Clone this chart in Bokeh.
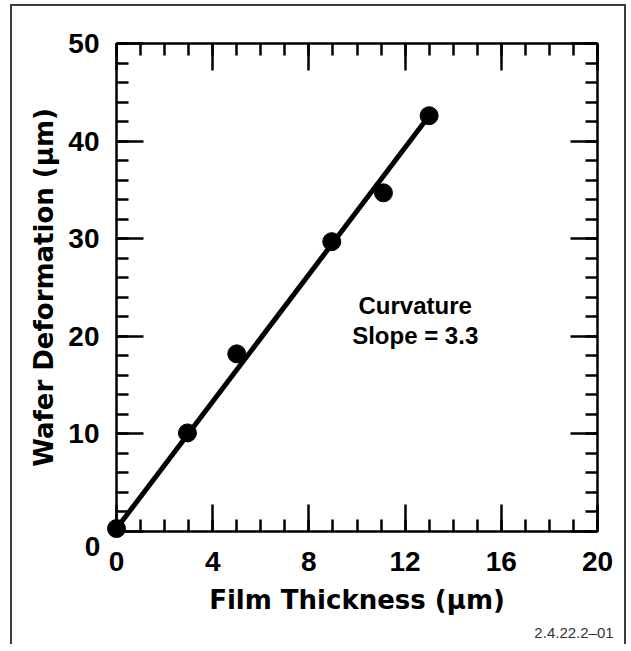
from bokeh.plotting import figure
from bokeh.models import Range1d, LinearAxis, FixedTicker, Label
from bokeh.core.properties import value
from bokeh.embed import file_html
from bokeh.resources import INLINE

# ---- data ----
thickness = [0.0, 2.95, 5.0, 8.95, 11.1, 13.0]      # Film thickness (um)
deformation = [0.3, 10.1, 18.2, 29.7, 34.7, 42.6]   # Wafer deformation (um)
fit_x = [0.0, 13.0]
fit_y = [0.3, 42.6]
x_major = [0, 4, 8, 12, 16, 20]
x_minor = [0, 1, 2, 3, 4, 5, 6, 7, 8, 9, 10, 11, 12, 13, 14, 15, 16, 17, 18, 19, 20]
y_major = [0, 10, 20, 30, 40, 50]
y_minor = [0, 2, 4, 6, 8, 10, 12, 14, 16, 18, 20, 22, 24, 26, 28, 30, 32, 34, 36, 38,
           40, 42, 44, 46, 48, 50]
x_title = "Film Thickness (\u03bcm)"
y_title = "Wafer Deformation (\u03bcm)"
note_lines = ["Curvature", "Slope = 3.3"]
fig_id = "2.4.22.2\u201301"
y_origin_label = "0"

TICK_FONT = "Liberation Sans"
TITLE_FONT = "DejaVu Sans"

W, H = 616, 640
p = figure(width=W, height=H,
           x_range=Range1d(0, 20), y_range=Range1d(0, 50),
           output_backend="svg", toolbar_location=None,
           min_border_left=104, min_border_right=31,
           min_border_top=37, min_border_bottom=115,
           background_fill_color="white", border_fill_color="white")
p.styles = {"margin-left": "10px", "margin-top": "4px",
            "border-top": "2px solid #3c3c3c",
            "border-left": "2px solid #3c3c3c",
            "border-right": "2px solid #3c3c3c"}
p.outline_line_color = None
p.xgrid.visible = False
p.ygrid.visible = False

xt = FixedTicker(ticks=x_major, minor_ticks=x_minor)
yt = FixedTicker(ticks=y_major, minor_ticks=y_minor)

def style_axis(ax, ticker):
    ax.ticker = ticker
    ax.axis_line_width = 2.5
    ax.axis_line_color = "black"
    ax.major_tick_line_width = 2.5
    ax.minor_tick_line_width = 2.5
    ax.major_tick_line_color = "black"
    ax.minor_tick_line_color = "black"
    ax.major_tick_in = 27
    ax.major_tick_out = 0
    ax.minor_tick_in = 12
    ax.minor_tick_out = 0
    ax.major_label_text_font = TICK_FONT
    ax.major_label_text_font_style = "bold"
    ax.major_label_text_font_size = "28px"
    ax.major_label_text_color = "black"
    ax.axis_label_text_font = TITLE_FONT
    ax.axis_label_text_font_style = "bold"
    ax.axis_label_text_font_size = "26px"
    ax.axis_label_text_color = "black"

xa = p.xaxis[0]
ya = p.yaxis[0]
style_axis(xa, xt)
style_axis(ya, yt)
xa.axis_label = x_title
ya.axis_label = y_title
xa.major_label_standoff = 20
ya.major_label_standoff = 17
xa.axis_label_standoff = 11
ya.axis_label_standoff = 6
ya.major_label_overrides = {0: ""}

top = LinearAxis()
right = LinearAxis()
style_axis(top, xt)
style_axis(right, yt)
for ax in (top, right):
    ax.major_label_text_color = None
    ax.major_label_text_font_size = "10px"
    ax.major_label_standoff = 0
p.add_layout(top, "above")
p.add_layout(right, "right")

# fit line and measured points (drawn above the axes, not clipped)
p.line(fit_x, fit_y, line_width=5, line_color="black", level="overlay")
p.scatter(thickness, deformation, size=18, marker="circle",
          fill_color="black", line_color="black", level="overlay")

# lone "0" of the y axis, set lower-left of the axis origin
p.text(x=[-1.0], y=[-1.5], text=[y_origin_label],
       text_font=value(TICK_FONT), text_font_style="bold",
       text_font_size="28px", text_align="center", text_baseline="middle",
       text_color="black", level="overlay")

# annotation text
p.add_layout(Label(x=12.42, y=23.15, text=note_lines[0], text_font=TICK_FONT,
                   text_font_style="bold", text_font_size="24px",
                   text_align="center", text_baseline="middle",
                   text_color="black"))
p.add_layout(Label(x=12.42, y=20.1, text=note_lines[1], text_font=TICK_FONT,
                   text_font_style="bold", text_font_size="24px",
                   text_align="center", text_baseline="middle",
                   text_color="black"))

# figure id at lower right, below the plot frame
p.text(x=[20.67], y=[-10.35], text=[fig_id],
       text_font=value("Liberation Sans"), text_font_size="15px",
       text_align="right", text_baseline="middle",
       text_color="#333333", level="overlay")

open("out.html", "w").write(file_html(p, INLINE))
